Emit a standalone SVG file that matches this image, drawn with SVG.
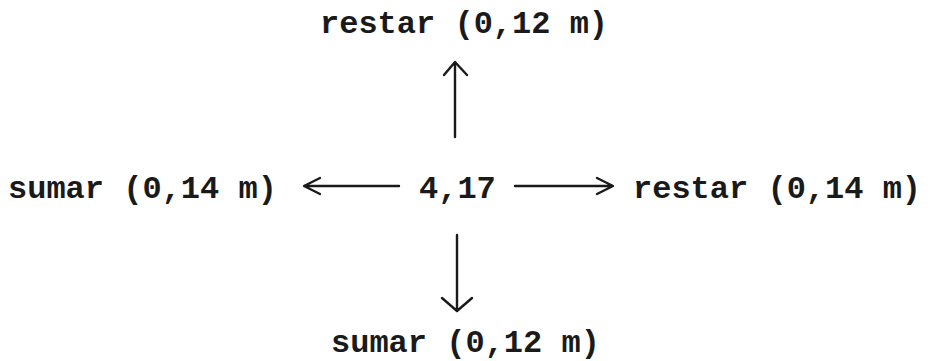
<svg xmlns="http://www.w3.org/2000/svg" width="931" height="361" viewBox="0 0 931 361">
<style>
  text { font-family: "Liberation Mono", "Courier New", monospace; font-weight: bold; font-size: 32px; fill: #1a1a1a; }
  .conn { stroke: #1a1a1a; stroke-width: 2.4; fill: none; stroke-linecap: round; stroke-linejoin: round; }
</style>
<rect width="931" height="361" fill="#ffffff"/>
<g id="center"><text x="419" y="198">4,17</text></g>
<g id="top"><text x="320" y="33">restar (0,12 m)</text></g>
<g id="left"><text x="8" y="198">sumar (0,14 m)</text></g>
<g id="right"><text x="633" y="198">restar (0,14 m)</text></g>
<g id="bottom"><text x="331" y="352">sumar (0,12 m)</text></g>
<g id="connectors">
  <path class="conn" d="M455,137 V63 M444,75 L455,62 L467,75"/>
  <path class="conn" d="M457,235 V310 M442,298 L457,311 L472,298"/>
  <path class="conn" d="M306,186 H399 M320,178 L304,186 L320,194"/>
  <path class="conn" d="M515,186 H611 M597,178 L613,186 L597,194"/>
</g>
</svg>
